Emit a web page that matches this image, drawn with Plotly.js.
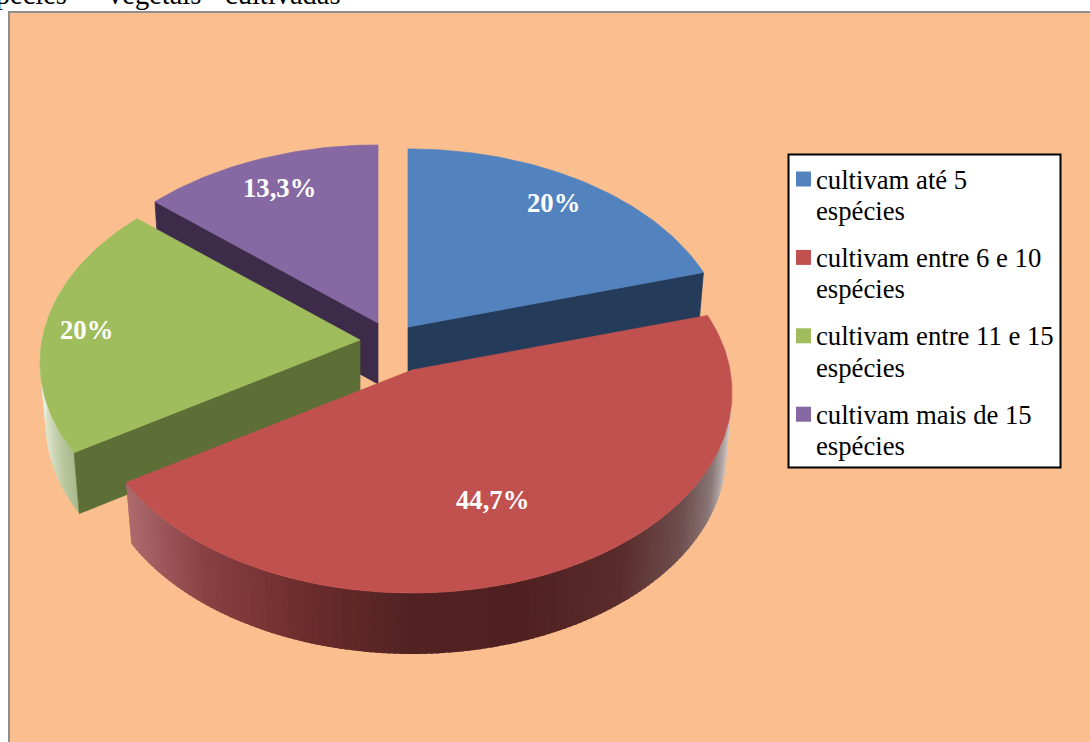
<!DOCTYPE html>
<html lang="pt">
<head>
<meta charset="utf-8">
<title>Espécies vegetais cultivadas</title>
<script src="https://cdn.plot.ly/plotly-3.0.1.min.js"></script>
<style>
  html, body { margin: 0; padding: 0; background: #fff; overflow: hidden; }
  #chart { width: 1090px; height: 742px; }
</style>
</head>
<body>
<div id="chart"></div>
<script>
// Chart data
const categories = [
  "cultivam até 5 espécies",
  "cultivam entre 6 e 10 espécies",
  "cultivam entre 11 e 15 espécies",
  "cultivam mais de 15 espécies"
];
const values = [20, 44.7, 20, 13.3];
const headingWords = ["espécies", "vegetais", "cultivadas"];

// Colours of each slice: top face, radial wall
const topColors = ["#5283bf", "#c1514f", "#a0bd5d", "#8668a3"];
const wallColors = ["#253b5a", "#4f2020", "#5d6e36", "#3c2c4a"];

// Shading of the curved outer wall, keyed by horizontal position on the rim
const redRim = [[-1, "#c08a8c"], [-0.845, "#ad6b6e"], [-0.6, "#8a4143"], [-0.3, "#6c2c2c"], [0, "#522222"],
  [0.3, "#502020"], [0.6, "#5a2c2c"], [0.8, "#6f4f4f"], [0.9, "#8a7676"], [0.97, "#c2bcbc"], [1.02, "#ece9e9"]];
const greenRim = [[-1.02, "#f4f7ee"], [-0.97, "#dfe6d0"], [-0.9, "#bcc9a2"], [-0.8, "#9aaa78"], [-0.6, "#7d8f52"]];

// Drawing geometry, in pixel-like axis units
const apex = [[408, 327], [412, 370], [360, 340], [378, 323]];
const radiusX = 318, radiusY = 198, perspective = 0.112, depth = 61, baseShrink = 0.982;
const labelAt = [[553, 203], [492, 500], [86, 330], [279, 188]];
const font = "Liberation Serif, Times New Roman, serif";
const stripStep = 1, stripOverlap = 0.6;

const total = values.reduce((a, b) => a + b, 0);
const spans = [];
values.reduce((start, v) => {
  const end = start + v / total * 360;
  spans.push([start, end]);
  return end;
}, 0);

// Projects a rim angle of a slice onto the tilted disc
function rim(i, deg, lowered) {
  const t = deg * Math.PI / 180, u = Math.sin(t), v = -Math.cos(t);
  const f = 1 - perspective * v, s = lowered ? baseShrink : 1;
  return [apex[i][0] + s * radiusX * u / f, apex[i][1] + radiusY * v / f + (lowered ? depth : 0)];
}
function hex(c) { return [1, 3, 5].map(k => parseInt(c.substr(k, 2), 16)); }
function shade(stops, u) {
  if (u <= stops[0][0]) return stops[0][1];
  for (let k = 1; k < stops.length; k++) {
    if (u <= stops[k][0]) {
      const w = (u - stops[k - 1][0]) / (stops[k][0] - stops[k - 1][0]);
      const a = hex(stops[k - 1][1]), b = hex(stops[k][1]);
      return "rgb(" + a.map((x, n) => Math.round(x + (b[n] - x) * w)).join(",") + ")";
    }
  }
  return stops[stops.length - 1][1];
}
function poly(pts, color, name, hover, edge) {
  return {
    type: "scatter", mode: "lines", fill: "toself", fillcolor: color,
    x: pts.map(p => p[0]), y: pts.map(p => p[1]),
    line: { color: color, width: edge }, showlegend: false,
    name: name || "", hoverinfo: hover ? "name" : "skip"
  };
}
// Flat side left by the pull-out, between the centre and one radial edge
function radialWall(i, deg) {
  const a = rim(i, deg, false), b = rim(i, deg, true);
  const c = apex[i], d = [c[0], c[1] + depth];
  return poly([c, a, b, d, c], wallColors[i], "", false, 0.7);
}
// Curved outer wall as thin strips; each one slightly overlaps the next so no seams show
function rimStrips(i, from, to, stops) {
  const out = [];
  for (let d = from; d < to; d += stripStep) {
    const e = Math.min(d + stripStep + stripOverlap, to);
    const a = rim(i, d, false), b = rim(i, e, false), c = rim(i, e, true), f = rim(i, d, true);
    out.push(poly([a, b, c, f, a], shade(stops, Math.sin((d + d + stripStep) * Math.PI / 360)), "", false, 0));
  }
  return out;
}
function topFace(i) {
  const pts = [apex[i]];
  for (let d = spans[i][0]; d < spans[i][1]; d += 1) pts.push(rim(i, d, false));
  pts.push(rim(i, spans[i][1], false), apex[i]);
  return poly(pts, topColors[i], categories[i] + ": " + values[i] + "%", true, 0.7);
}

// Painter's order: back slices first, the large front slice last
const traces = [
  radialWall(3, spans[3][0]), topFace(3),
  radialWall(0, spans[0][1]), topFace(0),
  ...rimStrips(2, spans[2][0], 300, greenRim), radialWall(2, spans[2][0]), topFace(2),
  ...rimStrips(1, spans[1][0], spans[1][1], redRim), topFace(1)
];

const shapes = [
  { type: "rect", layer: "below", x0: 9, y0: 12, x1: 1110, y1: 770, fillcolor: "#fbbf8f", line: { color: "#8e8e8e", width: 2 } },
  { type: "rect", x0: 788.5, y0: 154.5, x1: 1060.5, y1: 467.5, fillcolor: "#ffffff", line: { color: "#000000", width: 2 } }
];

const annotations = [];
function addText(text, x, y, size, color, bold, anchor, vertical) {
  annotations.push({
    text: bold ? "<b>" + text + "</b>" : text, x: x, y: y, xref: "x", yref: "y",
    xanchor: anchor, yanchor: vertical || "middle", showarrow: false,
    font: { family: font, size: size, color: color }
  });
}
values.forEach((v, i) => {
  addText(String(v).replace(".", ",") + "%", labelAt[i][0], labelAt[i][1], 26.7, "#ffffff", true, "center");
});
categories.forEach((c, i) => {
  const rowTop = 179.5 + i * 78.4, cut = c.lastIndexOf(" ");
  shapes.push({ type: "rect", x0: 796, x1: 811, y0: rowTop - 8, y1: rowTop + 7, fillcolor: topColors[i], line: { width: 0 } });
  addText(c.slice(0, cut), 814, rowTop, 26.7, "#000000", false, "left");
  addText(c.slice(cut + 1), 814, rowTop + 31.4, 26.7, "#000000", false, "left");
});
// Running heading above the frame, cut by the top of the page
[[69, "right"], [106, "left"], [223, "left"]].forEach((p, i) => addText(headingWords[i], p[0], 12, 28.5, "#000000", false, p[1], "bottom"));

Plotly.newPlot("chart", traces, {
  width: 1090, height: 742,
  margin: { l: 0, r: 0, t: 0, b: 0 },
  paper_bgcolor: "#ffffff", plot_bgcolor: "#ffffff",
  xaxis: { range: [0, 1090], visible: false, fixedrange: true },
  yaxis: { range: [742, 0], visible: false, fixedrange: true },
  showlegend: false, shapes: shapes, annotations: annotations
}, { displayModeBar: false });
</script>
</body>
</html>
